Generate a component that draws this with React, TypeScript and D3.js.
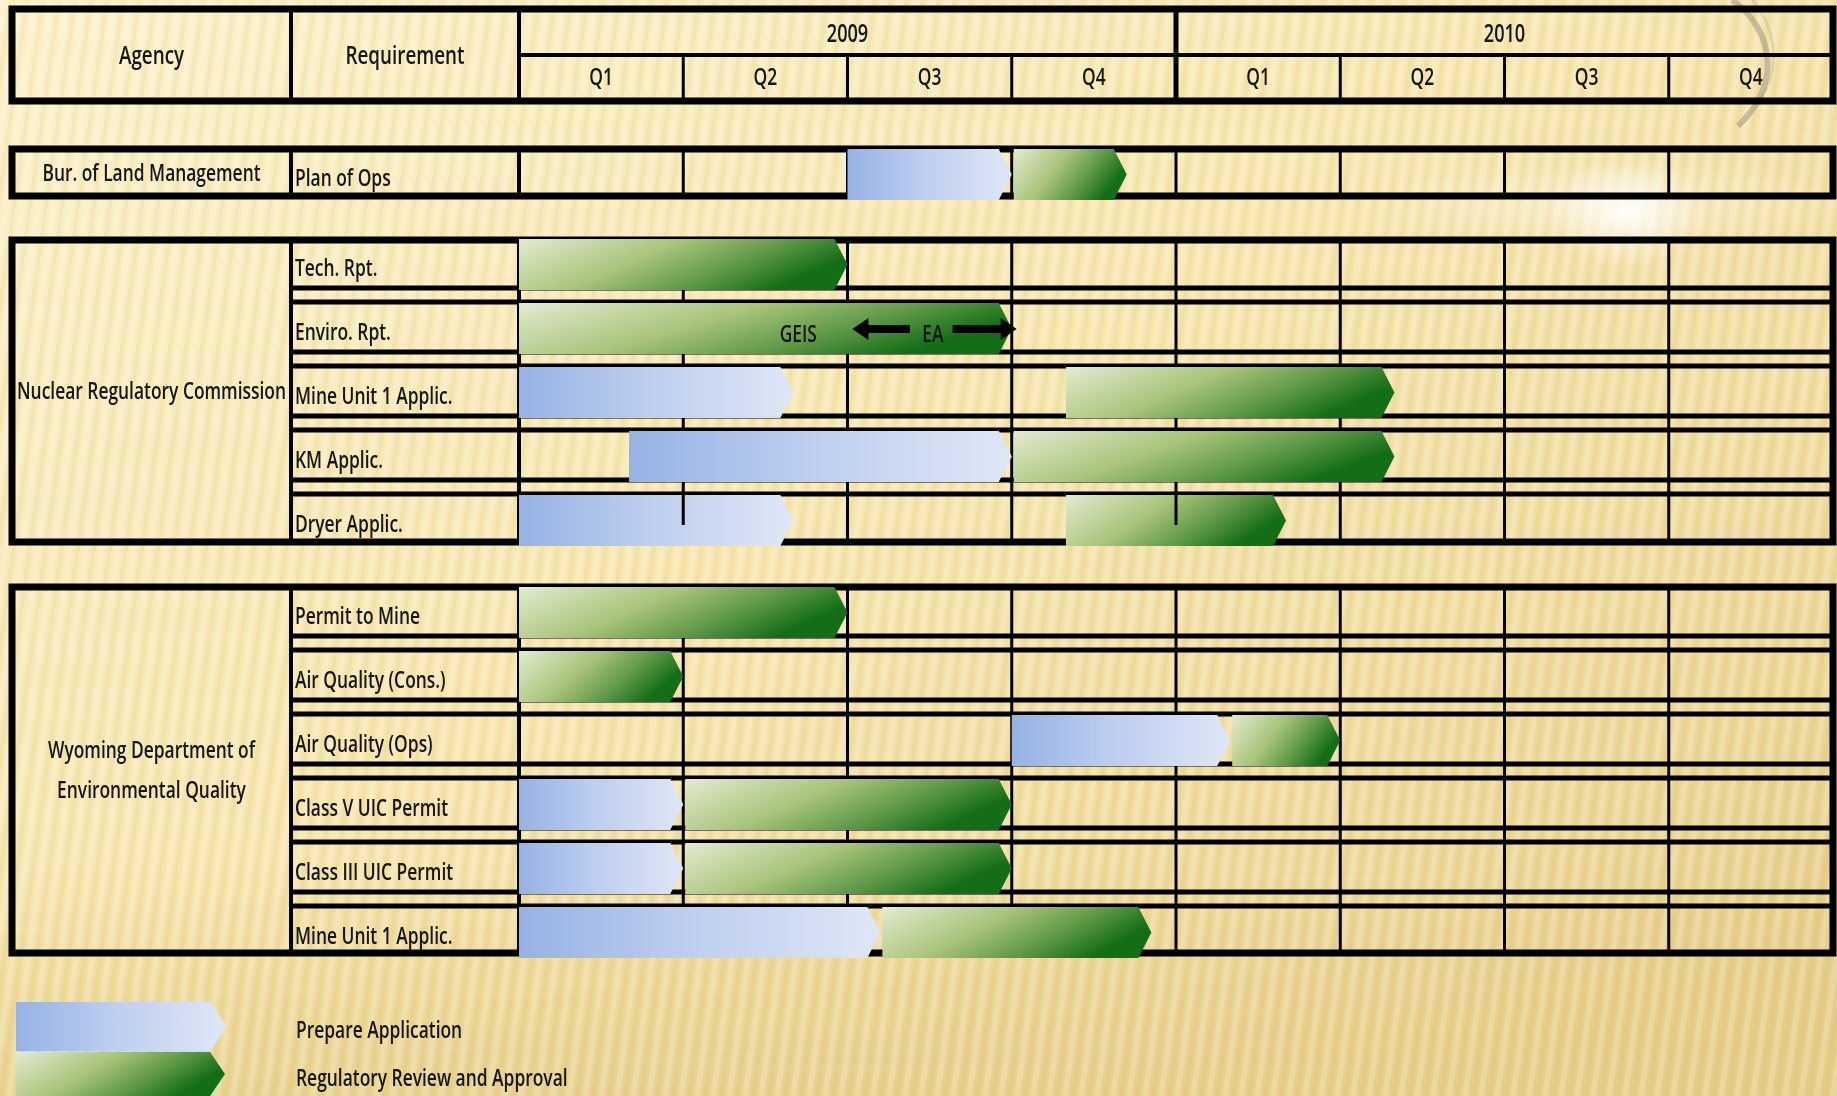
import React from 'react';
import * as d3 from 'd3';

const W = 1837;
const H = 1096;

// ---------- data ----------
const years = ['2009', '2010'];
const quarterLabels = ['Q1', 'Q2', 'Q3', 'Q4', 'Q1', 'Q2', 'Q3', 'Q4'];
const headerLabels = ['Agency', 'Requirement'];
const agencyNames = [
  ['Bur. of Land Management'],
  ['Nuclear Regulatory Commission'],
  ['Wyoming Department of', 'Environmental Quality'],
];
const blmRequirements = ['Plan of Ops'];
const nrcRequirements = ['Tech. Rpt.', 'Enviro. Rpt.', 'Mine Unit 1 Applic.', 'KM Applic.', 'Dryer Applic.'];
const wdeqRequirements = [
  'Permit to Mine',
  'Air Quality (Cons.)',
  'Air Quality (Ops)',
  'Class V UIC Permit',
  'Class III UIC Permit',
  'Mine Unit 1 Applic.',
];
// [start, end] measured in quarters from the start of 2009 Q1
const blmPrepare = [[2, 3]];
const blmReview = [[3, 3.7]];
const nrcPrepare = [null, null, [0, 1.67], [0.67, 3], [0, 1.67]];
const nrcReview = [[0, 2], [0, 3], [3.33, 5.33], [3, 5.33], [3.33, 4.67]];
const wdeqPrepare = [null, null, [3, 4.33], [0, 1], [0, 1], [0, 2.2]];
const wdeqReview = [[0, 2], [0, 1], [4.33, 5], [1, 3], [1, 3], [2.2, 3.85]];
const legendLabels = ['Prepare Application', 'Regulatory Review and Approval'];
const noteLabels = ['GEIS', 'EA'];
const notePositions = [1.7, 2.52];
const noteArrows = [
  [2.38, 2.03],
  [2.64, 3.03],
];
const dryerOverlayTicks = [1, 4];

// ---------- layout ----------
const X0 = 12;
const XA = 291;
const XR = 519;
const X1 = 1833;
const ROW = 64;
const x = d3.scaleLinear().domain([0, 8]).range([XR, X1]);

const blocks = [
  { top: 149, rowStart: 148, bottom: 196, reqs: blmRequirements, prep: blmPrepare, rev: blmReview, agency: agencyNames[0] },
  { top: 240, rowStart: 238, bottom: 542, reqs: nrcRequirements, prep: nrcPrepare, rev: nrcReview, agency: agencyNames[1] },
  { top: 587, rowStart: 586, bottom: 953, reqs: wdeqRequirements, prep: wdeqPrepare, rev: wdeqReview, agency: agencyNames[2] },
];

const FONT = "'Open Sans', 'DejaVu Sans', sans-serif";
const INK = '#141414';

function chevron(x0: number, x1: number, y0: number, y1: number, tip: number) {
  const p = d3.path();
  p.moveTo(x0, y0);
  p.lineTo(x1 - tip, y0);
  p.lineTo(x1, (y0 + y1) / 2);
  p.lineTo(x1 - tip, y1);
  p.lineTo(x0, y1);
  p.closePath();
  return p.toString();
}

function Label(props: { x: number; y: number; text: string; size?: number; anchor?: string; sx?: number }) {
  const { x: tx, y: ty, text, size = 24, anchor = 'start', sx = 0.725 } = props;
  return (
    <text
      transform={`translate(${tx},${ty}) scale(${sx},1)`}
      textAnchor={anchor as any}
      fontSize={size}
      fontWeight={600}
      fontFamily={FONT}
      fill={INK}
      filter="url(#soft)"
    >
      {text}
    </text>
  );
}

function Block({ b, bi }: { b: (typeof blocks)[number]; bi: number }) {
  const n = b.reqs.length;
  const y = d3.scaleLinear().domain([0, 1]).range([b.rowStart, b.rowStart + ROW]);
  const qs = d3.range(1, 8);
  const agencyMid = (b.top + b.bottom) / 2;
  return (
    <g>
      {/* grid */}
      {qs.map((q) => (
        <line key={'q' + q} x1={x(q)} x2={x(q)} y1={b.top} y2={b.bottom} stroke="#000" strokeWidth={3} />
      ))}
      {d3.range(n - 1).map((k) => (
        <g key={'h' + k}>
          <line x1={XA} x2={X1} y1={y(k) + 50} y2={y(k) + 50} stroke="#000" strokeWidth={5} />
          <line x1={XA} x2={X1} y1={y(k + 1)} y2={y(k + 1)} stroke="#000" strokeWidth={5} />
        </g>
      ))}
      <line x1={XA} x2={XA} y1={b.top} y2={b.bottom} stroke="#000" strokeWidth={4} />
      <line x1={XR} x2={XR} y1={b.top} y2={b.bottom} stroke="#000" strokeWidth={4} />
      <rect x={X0} y={b.top} width={X1 - X0} height={b.bottom - b.top} fill="none" stroke="#000" strokeWidth={7} />

      {/* bars */}
      {b.reqs.map((r, k) => {
        const p = b.prep[k];
        const v = b.rev[k];
        const y0 = y(k) + 1;
        const y1 = y(k) + 52;
        return (
          <g key={'bar' + k}>
            {p && <path d={chevron(x(p[0]), x(p[1]), y0, y1, 13)} fill="url(#gBlue)" />}
            {v && <path d={chevron(x(v[0]) + (p && Math.abs(p[1] - v[0]) < 0.05 ? 2 : 0), x(v[1]), y0, y1, 13)} fill="url(#gGreen)" />}
          </g>
        );
      })}

      {/* overlay ticks (drawn over Dryer bars in source) */}
      {bi === 1 &&
        dryerOverlayTicks.map((q) => (
          <line key={'ot' + q} x1={x(q)} x2={x(q)} y1={y(4) - 1} y2={y(4) + 31} stroke="#000" strokeWidth={3} />
        ))}

      {/* labels */}
      {b.reqs.map((r, k) => (
        <Label key={'r' + k} x={XA + 4} y={y(k) + 38} text={r} />
      ))}
      {b.agency.map((a, i) => (
        <Label
          key={'a' + i}
          x={(X0 + XA) / 2}
          y={agencyMid + 8 + (i - (b.agency.length - 1) / 2) * 40}
          text={a}
          anchor="middle"
        />
      ))}
    </g>
  );
}

export default function App() {
  const hTop = 9;
  const hMid = 55;
  const hBot = 101;
  const nrcY = d3.scaleLinear().domain([0, 1]).range([blocks[1].rowStart, blocks[1].rowStart + ROW]);
  const noteY = nrcY(1) + 27;
  return (
    <svg width={W} height={H} style={{ position: 'absolute', left: 0, top: 0, display: 'block' }}>
      <defs>
        <filter id="soft" x="-5%" y="-20%" width="110%" height="140%">
          <feGaussianBlur stdDeviation="0.35" />
        </filter>
        <linearGradient id="bg" x1="0" y1="0" x2="1" y2="1">
          <stop offset="0" stopColor="#fbf1c9" />
          <stop offset="0.45" stopColor="#f6e6ae" />
          <stop offset="0.8" stopColor="#ecd797" />
          <stop offset="1" stopColor="#e3ca83" />
        </linearGradient>
        <linearGradient id="bgBottom" x1="0" y1="0" x2="0" y2="1">
          <stop offset="0" stopColor="#e6cd86" stopOpacity="0" />
          <stop offset="1" stopColor="#e6cd86" stopOpacity="0.7" />
        </linearGradient>
        <pattern id="stripes" width="16" height="60" patternUnits="userSpaceOnUse" patternTransform="skewX(-8)">
          <rect x="0" y="0" width="6" height="60" fill="#ffffff" opacity="0.2" />
          <rect x="9" y="0" width="4" height="60" fill="#b89540" opacity="0.07" />
        </pattern>
        <radialGradient id="glow">
          <stop offset="0" stopColor="#ffffff" stopOpacity="0.95" />
          <stop offset="0.4" stopColor="#ffffff" stopOpacity="0.5" />
          <stop offset="1" stopColor="#ffffff" stopOpacity="0" />
        </radialGradient>
        <linearGradient id="gBlue" x1="0" y1="0" x2="1" y2="0">
          <stop offset="0" stopColor="#96b2e4" />
          <stop offset="0.45" stopColor="#bccdef" />
          <stop offset="1" stopColor="#dfe7f6" />
        </linearGradient>
        <linearGradient id="gGreen" x1="0" y1="0" x2="1" y2="0.35">
          <stop offset="0" stopColor="#e3ebd0" />
          <stop offset="0.45" stopColor="#a8c47a" />
          <stop offset="0.75" stopColor="#5e9847" />
          <stop offset="1" stopColor="#146e18" />
        </linearGradient>
      </defs>

      {/* background */}
      <rect x={0} y={0} width={W} height={H} fill="url(#bg)" />
      <rect x={0} y={860} width={W} height={H - 860} fill="url(#bgBottom)" />
      <rect x={0} y={0} width={W} height={H} fill="url(#stripes)" />
      <ellipse cx={1600} cy={205} rx={260} ry={45} fill="url(#glow)" opacity={0.45} />
      <ellipse cx={1628} cy={212} rx={80} ry={55} fill="url(#glow)" />
      <path d="M1732,0 C1772,28 1784,82 1738,126" fill="none" stroke="#8f8675" strokeOpacity={0.45} strokeWidth={6} />
      <path d="M1752,0 C1778,30 1780,70 1760,100" fill="none" stroke="#8f8675" strokeOpacity={0.2} strokeWidth={3} />

      {/* header */}
      <g>
        {d3.range(1, 8)
          .filter((q) => q !== 4)
          .map((q) => (
            <line key={'hq' + q} x1={x(q)} x2={x(q)} y1={hMid} y2={hBot} stroke="#000" strokeWidth={3} />
          ))}
        <line x1={x(4)} x2={x(4)} y1={hTop} y2={hBot} stroke="#000" strokeWidth={5} />
        <line x1={XR} x2={X1} y1={hMid} y2={hMid} stroke="#000" strokeWidth={4} />
        <line x1={XA} x2={XA} y1={hTop} y2={hBot} stroke="#000" strokeWidth={4} />
        <line x1={XR} x2={XR} y1={hTop} y2={hBot} stroke="#000" strokeWidth={4} />
        <rect x={X0} y={hTop} width={X1 - X0} height={hBot - hTop} fill="none" stroke="#000" strokeWidth={7} />
        <Label x={(X0 + XA) / 2} y={64} text={headerLabels[0]} size={26} anchor="middle" />
        <Label x={(XA + XR) / 2} y={64} text={headerLabels[1]} size={26} anchor="middle" />
        {years.map((yr, i) => (
          <Label key={yr} x={x(i * 4 + 2)} y={42} text={yr} size={25} anchor="middle" />
        ))}
        {quarterLabels.map((q, i) => (
          <Label key={'ql' + i} x={x(i + 0.5)} y={85} text={q} size={24} anchor="middle" />
        ))}
      </g>

      {blocks.map((b, i) => (
        <Block key={i} b={b} bi={i} />
      ))}

      {/* GEIS / EA annotation */}
      {noteLabels.map((t, i) => (
        <Label key={t} x={x(notePositions[i])} y={noteY + 13} text={t} anchor="middle" />
      ))}
      {noteArrows.map(([from, to], i) => {
        const xs = x(from);
        const xt = x(to);
        const dir = Math.sign(xt - xs);
        const head = 16;
        const p = d3.path();
        p.moveTo(xt, noteY);
        p.lineTo(xt - dir * head, noteY - 11);
        p.lineTo(xt - dir * head, noteY + 11);
        p.closePath();
        return (
          <g key={'ar' + i}>
            <line x1={xs} x2={xt - dir * head + dir * 1} y1={noteY} y2={noteY} stroke="#000" strokeWidth={8} />
            <path d={p.toString()} fill="#000" />
          </g>
        );
      })}

      {/* legend */}
      <path d={chevron(16, 226, 1002, 1051, 15)} fill="url(#gBlue)" />
      <path d={chevron(16, 225, 1052, 1096, 15)} fill="url(#gGreen)" />
      <Label x={296} y={1038} text={legendLabels[0]} />
      <Label x={296} y={1086} text={legendLabels[1]} />
    </svg>
  );
}
